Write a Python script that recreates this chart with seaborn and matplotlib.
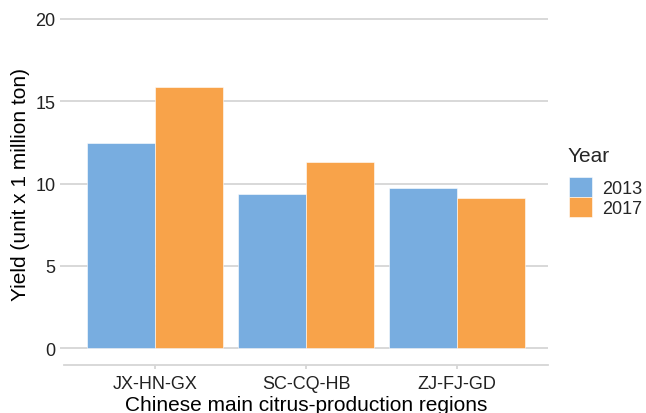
import seaborn as sns
import matplotlib.pyplot as plt
import pandas as pd

regions = ['JX-HN-GX', 'SC-CQ-HB', 'ZJ-FJ-GD']
years = ['2013', '2017']
yield_2013 = [12.45, 9.36, 9.73]
yield_2017 = [15.87, 11.31, 9.12]

df = pd.DataFrame({
    'region': regions * 2,
    'year': [years[0]] * 3 + [years[1]] * 3,
    'yield': yield_2013 + yield_2017,
})

sns.set_style('white')
plt.rcParams['font.family'] = ['Liberation Sans', 'DejaVu Sans']

grid_col = '#d6d6d6'
pal = {'2013': '#78ade0', '2017': '#f8a34a'}

fig = plt.figure(figsize=(6.46, 4.14), dpi=100)
ax = fig.add_axes([0.0997, 0.1171, 0.748, 0.8744])

sns.barplot(data=df, x='region', y='yield', hue='year', palette=pal,
            width=0.9, gap=0, edgecolor='white', linewidth=0.4,
            saturation=1, ax=ax, legend=False, zorder=3)

ax.set_xlim(-0.6, 2.6)
ax.set_ylim(-1, 21)
ax.set_yticks([0, 5, 10, 15, 20])
for v in [0, 5, 10, 15, 20]:
    ax.axhline(v, color=grid_col, lw=1.3, zorder=1)

for s in ['top', 'right', 'left']:
    ax.spines[s].set_visible(False)
ax.spines['bottom'].set_color(grid_col)
ax.spines['bottom'].set_linewidth(1.3)

ax.tick_params(axis='x', length=3, width=1.3, color=grid_col, pad=4.5,
               labelsize=13, labelcolor='#222222', bottom=True)
ax.tick_params(axis='y', length=3, width=1.3, color=grid_col, pad=3.5,
               labelsize=13, labelcolor='#222222', left=True)

ax.set_xlabel('Chinese main citrus-production regions', fontsize=15,
              color='black', labelpad=2)
ax.set_ylabel('Yield (unit x 1 million ton)', fontsize=15,
              color='black', labelpad=4)

# legend: title drawn separately so the keys can sit tight together
fig.text(568 / 646, 1 - 157 / 414, 'Year', fontsize=15, ha='left', va='center')
handles = [plt.Rectangle((0, 0), 1, 1, facecolor=pal[y], edgecolor='white',
                         linewidth=0.4) for y in years]
fig.legend(handles, years, loc='upper left', bbox_to_anchor=(0.870, 0.587),
           borderaxespad=0, frameon=False, fontsize=13, handlelength=1.25,
           handleheight=1.3, labelspacing=0.0, handletextpad=0.55)

fig.savefig('out.png', dpi=100)
